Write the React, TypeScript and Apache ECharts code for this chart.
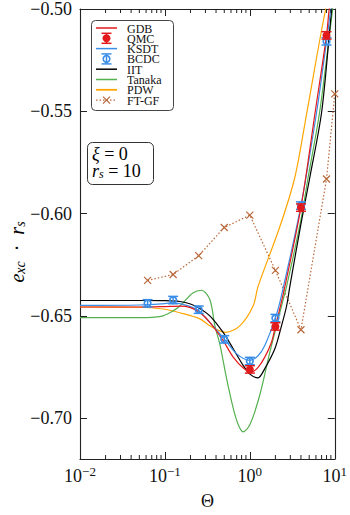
import React, { useEffect, useRef } from 'react';
import * as echarts from 'echarts';

const xMin = 0.01;
const xMax = 10;
const yMin = -0.72;
const yMax = -0.5;
const yTicks = [-0.7, -0.65, -0.6, -0.55, -0.5];
const xMinorTicks = [0.02, 0.03, 0.04, 0.05, 0.06, 0.07, 0.08, 0.09, 0.2, 0.3, 0.4, 0.5, 0.6, 0.7, 0.8, 0.9, 2, 3, 4, 5, 6, 7, 8, 9];

const legendNames = ['GDB', 'QMC', 'KSDT', 'BCDC', 'IIT', 'Tanaka', 'PDW', 'FT-GF'];

const gdb: [number, number][] = [
  [0.01, -0.6457], [0.05, -0.6457], [0.1, -0.6455], [0.15, -0.6453], [0.2, -0.646], [0.26, -0.6485],
  [0.34, -0.6533], [0.485, -0.6621], [0.637, -0.6702], [0.85, -0.6758], [1.05, -0.6775], [1.25, -0.6752],
  [1.5, -0.6702], [1.8, -0.6629], [2.0, -0.6552], [2.5, -0.6385], [4.0, -0.597], [5.9, -0.55],
  [8.0, -0.5129], [8.6, -0.5], [10, -0.48],
];
const ksdt: [number, number][] = [
  [0.01, -0.6449], [0.05, -0.6447], [0.1, -0.644], [0.125, -0.6436], [0.15, -0.644], [0.2, -0.6455],
  [0.25, -0.6475], [0.34, -0.6533], [0.5, -0.6613], [0.7, -0.6686], [1.0, -0.6718], [1.25, -0.6695],
  [1.5, -0.6645], [2.0, -0.651], [2.36, -0.64], [4.0, -0.596], [6.14, -0.55], [8.0, -0.5158],
  [8.97, -0.5], [10, -0.483],
];
const iit: [number, number][] = [
  [0.01, -0.6425], [0.05, -0.6425], [0.1, -0.6426], [0.15, -0.643], [0.2, -0.6442], [0.26, -0.6465],
  [0.338, -0.65], [0.485, -0.6581], [0.637, -0.6661], [0.834, -0.6742], [1.0, -0.6785], [1.25, -0.6803],
  [1.5, -0.6758], [1.97, -0.6661], [2.36, -0.6549], [2.71, -0.6452], [2.96, -0.6356], [4.0, -0.605],
  [5.08, -0.5825], [7.03, -0.55], [9.22, -0.5], [10, -0.49],
];
const tanaka: [number, number][] = [
  [0.01, -0.6509], [0.05, -0.6509], [0.09, -0.6503], [0.12, -0.648], [0.15, -0.6452], [0.213, -0.6388],
  [0.27, -0.6375], [0.338, -0.642], [0.388, -0.6549], [0.444, -0.664], [0.532, -0.6806], [0.637, -0.6951],
  [0.729, -0.7031], [0.834, -0.7067], [1.0, -0.7033], [1.31, -0.6887], [1.72, -0.6678], [2.06, -0.6549],
  [2.36, -0.6452], [2.71, -0.6356], [4.0, -0.603], [4.85, -0.5825], [6.66, -0.55], [9.46, -0.5],
  [10, -0.493],
];
const pdw: [number, number][] = [
  [0.01, -0.6457], [0.05, -0.6458], [0.1, -0.6468], [0.15, -0.6485], [0.258, -0.6515], [0.338, -0.6549],
  [0.52, -0.6581], [0.762, -0.6549], [1.093, -0.6452], [1.25, -0.6356], [2.25, -0.6066], [3.38, -0.5825],
  [4.72, -0.55], [7.83, -0.5], [10, -0.485],
];

const qmcTheta = [1, 2, 4, 8];
const qmcValue = [-0.6762, -0.6552, -0.5971, -0.5129];
const qmcError = [0.0018, 0.0018, 0.0018, 0.0018];

const bcdcTheta = [0.0625, 0.125, 0.25, 0.5, 1, 2, 4, 8];
const bcdcValue = [-0.6439, -0.6423, -0.647, -0.6615, -0.6721, -0.6511, -0.5961, -0.5158];
const bcdcError = [0.0018, 0.0018, 0.0018, 0.0018, 0.0018, 0.0018, 0.0018, 0.0018];

const ftgfTheta = [0.0625, 0.125, 0.25, 0.5, 1, 2, 4, 8, 10];
const ftgfValue = [-0.6327, -0.6298, -0.6206, -0.6068, -0.6008, -0.6278, -0.6568, -0.5831, -0.5415];

const SERIF = "'Liberation Serif', 'DejaVu Serif', serif";
const INK = '#111';
const RED = '#e31a1c';
const BLUE = '#3a8ee8';
const BLACK = '#000';
const GREEN = '#55b04e';
const ORANGE = '#ffa500';
const BROWN = '#b9683a';

function errorBarRenderer(color: string, filled: boolean) {
  return (params: any, api: any) => {
    const x = api.value(0);
    const y = api.value(1);
    const e = api.value(2);
    const c = api.coord([x, y]);
    const t = api.coord([x, y + e]);
    const b = api.coord([x, y - e]);
    const cap = 5;
    const ls = { stroke: color, lineWidth: 1.5 };
    return {
      type: 'group',
      children: [
        { type: 'line', shape: { x1: c[0], y1: t[1], x2: c[0], y2: b[1] }, style: ls },
        { type: 'line', shape: { x1: c[0] - cap, y1: t[1], x2: c[0] + cap, y2: t[1] }, style: ls },
        { type: 'line', shape: { x1: c[0] - cap, y1: b[1], x2: c[0] + cap, y2: b[1] }, style: ls },
        filled
          ? { type: 'circle', shape: { cx: c[0], cy: c[1], r: 4 }, style: { fill: color } }
          : { type: 'circle', shape: { cx: c[0], cy: c[1], r: 3.3 }, style: { fill: 'none', stroke: color, lineWidth: 1.7 } },
      ],
    };
  };
}

export default function App() {
  const ref = useRef<HTMLDivElement>(null);
  useEffect(() => {
    const chart = echarts.init(ref.current!, null, { renderer: 'svg' });

    const line = (name: string, data: [number, number][], color: string, z: number, width = 1.2) => ({
      type: 'line',
      name,
      data,
      xAxisIndex: 0,
      yAxisIndex: 0,
      symbol: 'none',
      showSymbol: false,
      smooth: 0.3,
      clip: true,
      lineStyle: { color, width },
      z,
    });

    const legendStyles: Record<string, any> = {
      GDB: { kind: 'line', color: RED },
      QMC: { kind: 'err', color: RED, filled: true },
      KSDT: { kind: 'line', color: BLUE },
      BCDC: { kind: 'err', color: BLUE, filled: false },
      IIT: { kind: 'line', color: BLACK },
      Tanaka: { kind: 'line', color: GREEN },
      PDW: { kind: 'line', color: ORANGE, width: 1.8 },
      'FT-GF': { kind: 'cross', color: BROWN },
    };

    const legendChildren: any[] = [
      {
        type: 'rect',
        shape: { x: 91.5, y: 20.5, width: 82, height: 90, r: 4 },
        style: { fill: '#fff', stroke: '#444', lineWidth: 1 },
      },
    ];
    const hx1 = 96;
    const hx2 = 117;
    const hc = (hx1 + hx2) / 2;
    legendNames.forEach((name, i) => {
      const y = 28 + i * 10.3;
      const st = legendStyles[name];
      if (st.kind === 'line') {
        legendChildren.push({
          type: 'line',
          shape: { x1: hx1, y1: y, x2: hx2, y2: y },
          style: { stroke: st.color, lineWidth: st.width || 1.5 },
        });
      } else if (st.kind === 'err') {
        const ls = { stroke: st.color, lineWidth: 1.5 };
        legendChildren.push(
          { type: 'line', shape: { x1: hc, y1: y - 5, x2: hc, y2: y + 5 }, style: ls },
          { type: 'line', shape: { x1: hc - 5, y1: y - 5, x2: hc + 5, y2: y - 5 }, style: ls },
          { type: 'line', shape: { x1: hc - 5, y1: y + 5, x2: hc + 5, y2: y + 5 }, style: ls },
          st.filled
            ? { type: 'circle', shape: { cx: hc, cy: y, r: 4 }, style: { fill: st.color } }
            : { type: 'circle', shape: { cx: hc, cy: y, r: 3.3 }, style: { fill: 'none', stroke: st.color, lineWidth: 1.6 } },
        );
      } else {
        legendChildren.push(
          {
            type: 'line',
            shape: { x1: hx1, y1: y, x2: hx2, y2: y },
            style: { stroke: st.color, lineWidth: 1.2, lineDash: [1.5, 2] },
          },
          { type: 'line', shape: { x1: hc - 3.5, y1: y - 3.5, x2: hc + 3.5, y2: y + 3.5 }, style: { stroke: st.color, lineWidth: 1.2 } },
          { type: 'line', shape: { x1: hc - 3.5, y1: y + 3.5, x2: hc + 3.5, y2: y - 3.5 }, style: { stroke: st.color, lineWidth: 1.2 } },
        );
      }
      legendChildren.push({
        type: 'text',
        style: {
          x: 127,
          y: y + 0.5,
          text: name,
          fontFamily: SERIF,
          fontSize: 12,
          lineHeight: 10,
          fill: INK,
          align: 'left',
          verticalAlign: 'middle',
        },
      });
    });

    const mathRich = {
      i: { fontFamily: SERIF, fontStyle: 'italic', fontSize: 18, lineHeight: 18, verticalAlign: 'top', color: INK },
      n: { fontFamily: SERIF, fontSize: 18, lineHeight: 18, verticalAlign: 'top', color: INK },
      sub: { fontFamily: SERIF, fontStyle: 'italic', fontSize: 12, lineHeight: 12, verticalAlign: 'bottom', padding: [9, 0, 0, 0], color: INK },
    };
    const labelRich = {
      i: { fontFamily: SERIF, fontStyle: 'italic', fontSize: 20, lineHeight: 20, verticalAlign: 'top', color: INK },
      n: { fontFamily: SERIF, fontSize: 20, lineHeight: 20, verticalAlign: 'top', color: INK },
      sub: { fontFamily: SERIF, fontStyle: 'italic', fontSize: 14, lineHeight: 14, verticalAlign: 'bottom', padding: [10, 0, 0, 0], color: INK },
    };

    const option: any = {
      animation: false,
      grid: { left: 80, right: 14, top: 9, bottom: 50, containLabel: false },
      xAxis: [
        {
          type: 'log',
          logBase: 10,
          min: xMin,
          max: xMax,
          position: 'bottom',
          axisLine: { show: true, onZero: false, lineStyle: { color: '#222', width: 1.1 } },
          axisTick: { show: true, inside: true, length: 7, lineStyle: { color: '#222', width: 1 } },
          axisLabel: {
            margin: 6,
            formatter: (v: number) => {
              const e = Math.round(Math.log10(v));
              return `{b|10}{s|${e < 0 ? '\u2212' : ''}${Math.abs(e)}}`;
            },
            rich: {
              b: { fontFamily: SERIF, fontSize: 18, lineHeight: 20, verticalAlign: 'bottom', color: INK },
              s: { fontFamily: SERIF, fontSize: 13, lineHeight: 13, verticalAlign: 'top', padding: [0, 0, 9, 0], color: INK },
            },
          },
          splitLine: { show: false },
          name: 'Θ',
          nameLocation: 'middle',
          nameGap: 33,
          nameTextStyle: { fontFamily: SERIF, fontSize: 18, color: INK },
        },
        {
          type: 'log',
          logBase: 10,
          min: xMin,
          max: xMax,
          position: 'top',
          axisLine: { show: true, onZero: false, lineStyle: { color: '#222', width: 1.1 } },
          axisTick: { show: true, inside: true, length: 7, lineStyle: { color: '#222', width: 1 } },
          axisLabel: { show: false },
          splitLine: { show: false },
        },
      ],
      yAxis: [
        {
          type: 'value',
          min: yMin,
          max: yMax,
          position: 'left',
          axisLine: { show: true, onZero: false, lineStyle: { color: '#222', width: 1.1 } },
          axisTick: { show: true, inside: true, length: 7, customValues: yTicks, lineStyle: { color: '#222', width: 1 } },
          axisLabel: {
            customValues: yTicks,
            margin: 8,
            fontFamily: SERIF,
            fontSize: 18,
            color: INK,
            formatter: (v: number) => (v < 0 ? '\u2212' : '') + Math.abs(v).toFixed(2),
          },
          splitLine: { show: false },
        },
        {
          type: 'value',
          min: yMin,
          max: yMax,
          position: 'right',
          axisLine: { show: true, onZero: false, lineStyle: { color: '#222', width: 1.1 } },
          axisTick: { show: true, inside: true, length: 7, customValues: yTicks, lineStyle: { color: '#222', width: 1 } },
          axisLabel: { show: false },
          splitLine: { show: false },
        },
      ],
      series: [
        {
          type: 'custom',
          silent: true,
          xAxisIndex: 0,
          yAxisIndex: 0,
          data: xMinorTicks.map((v) => [v, -0.6]),
          encode: { x: 0, y: 1 },
          renderItem: (params: any, api: any) => {
            const px = api.coord([api.value(0), -0.6])[0];
            const cs = params.coordSys;
            const ls = { stroke: '#222', lineWidth: 1 };
            return {
              type: 'group',
              children: [
                { type: 'line', shape: { x1: px, y1: cs.y + cs.height, x2: px, y2: cs.y + cs.height - 4 }, style: ls },
                { type: 'line', shape: { x1: px, y1: cs.y, x2: px, y2: cs.y + 4 }, style: ls },
              ],
            };
          },
          z: 3,
        },
        {
          type: 'line',
          name: 'FT-GF',
          data: ftgfTheta.map((t, i) => [t, ftgfValue[i]]),
          symbol: 'path://M0,0L10,10M10,0L0,10',
          symbolSize: 7,
          showSymbol: true,
          clip: true,
          lineStyle: { color: BROWN, width: 1.2, type: [1.5, 2] },
          itemStyle: { color: 'rgba(0,0,0,0)', borderColor: BROWN, borderWidth: 1.2 },
          z: 2,
        },
        line('PDW', pdw, ORANGE, 2),
        line('Tanaka', tanaka, GREEN, 2),
        line('IIT', iit, BLACK, 2),
        line('KSDT', ksdt, BLUE, 2),
        line('GDB', gdb, RED, 2),
        {
          type: 'custom',
          name: 'BCDC',
          data: bcdcTheta.map((t, i) => [t, bcdcValue[i], bcdcError[i]]),
          encode: { x: 0, y: 1 },
          renderItem: errorBarRenderer(BLUE, false),
          z: 4,
        },
        {
          type: 'custom',
          name: 'QMC',
          data: qmcTheta.map((t, i) => [t, qmcValue[i], qmcError[i]]),
          encode: { x: 0, y: 1 },
          renderItem: errorBarRenderer(RED, true),
          z: 5,
        },
      ],
      graphic: [
        { type: 'group', children: legendChildren, z: 10 },
        {
          type: 'rect',
          shape: { x: 87.5, y: 142.5, width: 66, height: 42, r: 5 },
          style: { fill: '#fff', stroke: '#333', lineWidth: 1 },
          z: 10,
        },
        {
          type: 'text',
          z: 11,
          style: { x: 92, y: 145, text: '{i|ξ}{n| = 0}', rich: mathRich, align: 'left', verticalAlign: 'top' },
        },
        {
          type: 'text',
          z: 11,
          style: { x: 92, y: 162, text: '{i|r}{sub|s}{n| = 10}', rich: mathRich, align: 'left', verticalAlign: 'top' },
        },
        {
          type: 'text',
          z: 11,
          x: 17,
          y: 252,
          rotation: Math.PI / 2,
          style: {
            x: 0,
            y: 0,
            text: '{i|e}{sub|xc}{n|  ·  }{i|r}{sub|s}',
            rich: labelRich,
            align: 'center',
            verticalAlign: 'middle',
          },
        },
      ],
    };

    chart.setOption(option);
    return () => chart.dispose();
  }, []);

  return <div ref={ref} style={{ position: 'absolute', left: 0, top: 0, width: 350, height: 515 }} />;
}
